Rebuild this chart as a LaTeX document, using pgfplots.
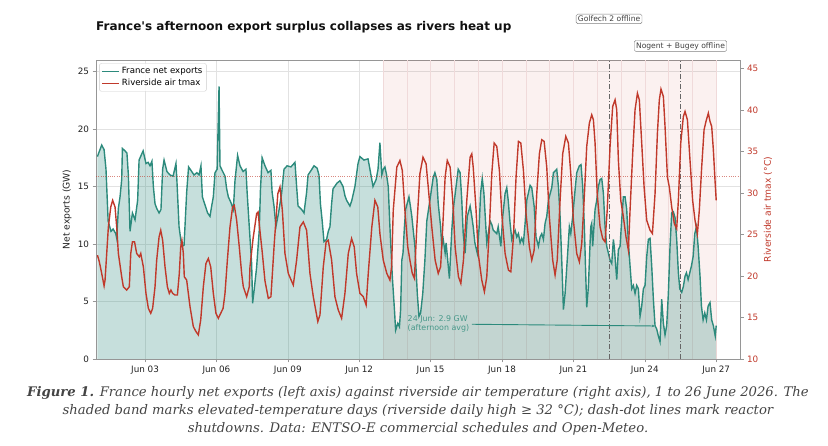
\documentclass[border=0pt]{standalone}
\usepackage{pgfplots}
\pgfplotsset{compat=1.18}
\usepackage{pgfplotstable}
\usepackage{fontspec}
\setmainfont{DejaVu Sans}[Ligatures=TeXOff]
\newfontfamily\capfont{DejaVu Serif}
\usetikzlibrary{arrows.meta}
\definecolor{tealc}{RGB}{44,138,124}
\definecolor{redc}{RGB}{192,57,43}
\definecolor{gridc}{RGB}{226,226,226}
\definecolor{spinec}{RGB}{150,150,150}
\definecolor{capc}{RGB}{68,68,68}
\definecolor{annc}{RGB}{72,152,138}
\definecolor{edgec}{RGB}{240,218,218}
\definecolor{txtc}{RGB}{34,34,34}

\pgfplotstableread{
x y
0.00 17.6
0.07 18.0
0.18 18.6
0.28 18.2
0.36 16.5
0.45 12.0
0.57 11.1
0.66 11.3
0.77 10.9
0.81 10.5
0.88 13.1
0.95 14.1
1.02 15.6
1.05 18.3
1.16 18.1
1.24 17.9
1.30 16.0
1.37 11.1
1.47 12.7
1.58 12.1
1.69 13.8
1.75 17.3
1.92 18.1
2.04 17.0
2.13 17.1
2.21 16.8
2.29 17.2
2.35 15.0
2.42 13.5
2.49 13.1
2.59 12.7
2.67 13.0
2.74 16.5
2.80 17.3
2.92 16.3
3.05 16.0
3.18 15.9
3.30 17.0
3.34 15.5
3.43 11.5
3.54 9.8
3.64 9.9
3.75 14.5
3.83 16.7
3.93 16.4
4.06 16.0
4.18 16.2
4.27 16.0
4.35 16.8
4.41 14.1
4.52 13.4
4.63 12.7
4.73 12.4
4.80 13.3
4.87 14.1
4.94 16.2
5.03 16.5
5.11 23.7
5.15 16.8
5.24 16.4
5.36 15.9
5.43 14.8
5.50 14.1
5.61 13.6
5.71 13.0
5.78 15.5
5.89 17.7
5.99 16.8
6.12 16.3
6.24 16.5
6.29 14.5
6.38 11.5
6.48 8.3
6.52 4.85
6.58 5.9
6.69 8.0
6.80 11.2
6.85 14.7
6.92 17.5
7.04 16.8
7.17 16.2
7.29 16.4
7.34 14.5
7.42 13.3
7.50 11.5
7.61 12.7
7.74 14.4
7.84 16.5
7.97 16.8
8.13 16.7
8.30 17.1
8.37 15.0
8.43 13.3
8.58 13.0
8.68 12.7
8.79 14.5
8.85 16.0
8.98 16.4
9.10 16.8
9.23 16.6
9.31 16.0
9.37 13.5
9.44 12.1
9.52 10.2
9.63 10.4
9.70 11.1
9.77 11.5
9.84 13.5
9.90 14.8
10.07 15.3
10.19 15.5
10.32 15.0
10.40 14.2
10.47 13.8
10.61 13.3
10.69 13.8
10.82 15.0
10.95 17.0
11.03 17.6
11.20 17.3
11.37 17.4
11.45 16.5
11.58 15.0
11.71 15.6
11.79 16.5
11.87 18.8
11.95 16.0
12.01 16.5
12.08 16.7
12.15 16.0
12.22 15.0
12.29 11.5
12.39 7.2
12.48 4.3
12.53 2.5
12.62 3.1
12.69 2.8
12.74 4.3
12.79 8.6
12.84 9.2
12.90 11.5
12.95 13.0
13.09 14.1
13.15 13.3
13.21 12.4
13.34 9.8
13.44 5.7
13.51 3.7
13.58 4.0
13.67 5.7
13.76 8.6
13.84 12.0
13.97 13.8
14.11 15.8
14.18 16.2
14.26 15.6
14.32 13.5
14.42 11.5
14.47 9.8
14.53 10.4
14.61 9.2
14.65 10.1
14.70 9.0
14.79 7.0
14.89 11.2
14.95 13.0
15.07 15.0
15.16 16.5
15.24 16.2
15.31 13.8
15.37 10.9
15.45 9.2
15.54 12.4
15.58 12.7
15.66 13.3
15.73 12.4
15.79 11.5
15.86 10.1
15.96 9.2
16.04 11.5
16.10 14.4
16.17 15.7
16.24 14.4
16.32 11.5
16.36 10.1
16.42 10.9
16.50 12.0
16.57 11.7
16.63 11.2
16.78 10.9
16.84 11.5
16.95 9.8
17.03 12.4
17.13 14.4
17.20 14.9
17.26 13.8
17.34 11.8
17.41 10.4
17.48 10.9
17.55 11.2
17.62 10.6
17.69 10.9
17.76 10.1
17.83 10.5
17.90 10.1
17.97 11.8
18.04 13.8
18.18 15.1
18.25 14.9
18.35 13.3
18.43 10.6
18.53 9.8
18.60 10.6
18.67 10.9
18.74 10.4
18.81 11.8
18.88 12.4
18.95 13.8
19.09 14.9
19.16 16.2
19.30 16.5
19.37 15.0
19.44 12.4
19.51 8.6
19.58 4.3
19.65 5.7
19.74 8.6
19.83 11.5
19.89 10.9
19.97 12.4
20.07 14.7
20.14 16.2
20.25 16.8
20.32 16.9
20.39 15.0
20.46 11.5
20.52 7.2
20.56 4.5
20.63 6.3
20.70 10.1
20.73 11.5
20.77 11.8
20.81 9.8
20.91 13.0
20.98 13.8
21.05 15.0
21.12 15.6
21.19 15.7
21.26 14.4
21.33 11.5
21.40 9.8
21.47 9.2
21.54 8.6
21.61 8.3
21.68 10.4
21.72 9.7
21.82 6.9
21.89 9.5
21.96 9.8
22.03 12.1
22.10 14.1
22.17 14.1
22.24 13.0
22.31 10.1
22.38 8.1
22.45 6.1
22.52 6.4
22.59 5.7
22.66 6.4
22.73 6.1
22.80 3.7
22.87 4.6
22.94 6.1
23.01 6.4
23.08 8.9
23.15 10.4
23.22 10.5
23.29 8.1
23.36 5.2
23.43 2.9
23.50 2.6
23.57 2.0
23.64 1.5
23.71 5.2
23.78 3.1
23.85 2.1
23.92 2.9
23.99 5.7
24.06 9.8
24.13 12.7
24.20 12.8
24.27 12.3
24.34 10.4
24.41 7.5
24.47 6.1
24.55 5.8
24.62 6.3
24.69 7.2
24.75 7.5
24.82 6.9
24.89 7.5
24.96 8.1
25.03 8.9
25.10 10.9
25.17 11.5
25.24 9.8
25.32 7.2
25.38 4.6
25.45 3.4
25.52 4.0
25.59 3.4
25.66 4.6
25.74 4.9
25.81 3.4
25.88 2.9
25.96 2.0
26.00 2.9
}\exports

\pgfplotstableread{
x y
0.00 22.5
0.08 21.7
0.18 20.3
0.28 18.8
0.32 19.5
0.39 22.7
0.46 25.9
0.56 28.3
0.64 29.1
0.74 28.3
0.81 25.9
0.88 22.7
1.02 19.9
1.09 18.7
1.23 18.3
1.34 18.7
1.40 22.7
1.47 24.1
1.56 24.1
1.65 22.7
1.76 22.3
1.82 22.7
1.93 21.1
2.04 17.9
2.14 16.1
2.24 15.5
2.32 16.1
2.42 18.7
2.49 21.9
2.59 24.7
2.66 25.5
2.74 24.3
2.84 21.1
2.94 18.7
3.02 17.9
3.09 18.3
3.16 17.9
3.26 17.7
3.36 17.7
3.44 20.3
3.50 23.5
3.55 24.3
3.61 22.7
3.65 19.9
3.75 19.5
3.82 17.9
3.89 16.3
4.03 13.9
4.14 13.3
4.24 12.9
4.34 14.7
4.45 18.7
4.56 21.5
4.66 22.1
4.76 21.1
4.87 17.9
4.98 15.5
5.08 14.9
5.18 15.5
5.28 16.1
5.36 17.9
5.46 21.9
5.57 25.9
5.68 28.3
5.75 28.5
5.85 26.7
5.96 23.5
6.06 20.3
6.13 18.7
6.27 17.5
6.38 18.7
6.41 21.1
6.54 24.5
6.69 27.5
6.75 27.7
6.83 25.4
6.92 23.0
7.04 19.4
7.18 17.3
7.29 17.5
7.43 23.9
7.58 29.9
7.67 30.7
7.77 27.9
7.88 22.7
8.02 20.3
8.23 18.9
8.37 21.9
8.51 25.9
8.65 26.5
8.79 25.5
8.93 20.3
9.07 17.5
9.26 14.5
9.35 15.3
9.49 21.1
9.61 24.1
9.70 24.3
9.84 21.9
9.98 17.5
10.12 15.9
10.26 14.9
10.40 17.9
10.54 22.7
10.68 24.5
10.79 23.5
10.89 20.3
11.03 17.9
11.17 17.5
11.29 16.5
11.38 20.3
11.53 25.9
11.66 29.1
11.78 28.3
11.87 25.1
12.01 21.9
12.16 20.3
12.29 19.5
12.36 21.1
12.43 27.9
12.58 33.1
12.71 33.9
12.81 32.7
12.92 27.9
13.04 23.5
13.13 21.9
13.23 20.3
13.32 19.7
13.42 25.9
13.55 32.3
13.68 34.3
13.81 33.5
13.90 30.7
14.05 25.9
14.19 21.9
14.32 20.3
14.42 21.1
14.51 25.9
14.61 31.9
14.70 33.9
14.82 33.1
14.93 29.1
15.03 23.5
15.17 19.9
15.27 19.1
15.38 21.9
15.52 29.1
15.66 34.3
15.73 34.7
15.79 33.1
15.91 27.9
16.00 22.7
16.15 19.5
16.26 18.1
16.36 19.9
16.47 25.9
16.57 32.3
16.67 36.0
16.78 35.6
16.89 32.7
16.99 27.5
17.13 22.7
17.27 20.7
17.37 20.5
17.48 24.7
17.59 31.9
17.69 36.2
17.79 36.0
17.90 32.7
18.01 27.5
18.15 23.5
18.25 21.9
18.35 23.1
18.46 29.9
18.57 34.7
18.67 36.4
18.77 36.2
18.88 33.1
18.99 27.1
19.13 21.9
19.23 20.1
19.32 21.9
19.44 29.1
19.55 34.7
19.68 36.8
19.79 36.0
19.89 32.3
20.00 26.7
20.14 22.7
20.25 21.7
20.35 23.9
20.45 29.1
20.56 35.6
20.67 38.4
20.77 39.4
20.84 38.8
20.91 36.0
21.00 29.9
21.12 25.9
21.23 24.5
21.33 24.1
21.42 27.9
21.54 35.6
21.65 40.4
21.75 41.2
21.82 40.0
21.89 33.9
21.99 29.1
22.10 27.1
22.21 24.7
22.31 23.1
22.38 27.9
22.49 34.7
22.59 40.0
22.69 42.0
22.77 41.2
22.87 36.0
22.97 30.7
23.08 26.7
23.22 25.5
23.32 25.1
23.43 29.9
23.53 37.2
23.61 41.2
23.68 42.5
23.78 41.6
23.85 38.0
23.95 31.9
24.03 30.7
24.13 28.3
24.24 26.3
24.34 25.7
24.41 29.1
24.51 36.0
24.62 39.2
24.69 39.8
24.79 38.8
24.90 33.9
25.01 29.1
25.11 26.7
25.21 25.1
25.29 27.9
25.39 33.1
25.49 37.6
25.57 38.6
25.67 39.6
25.74 38.6
25.81 38.0
25.88 35.2
25.95 31.5
26.00 29.1
}\tmax

\begin{document}
\begin{tikzpicture}[x=1pt,y=1pt]
\useasboundingbox (0,0) rectangle (828,446);
\node[anchor=base west, inner sep=0pt, font=\fontsize{12}{14}\selectfont\bfseries, text={rgb,255:red,17;green,17;blue,17}] at (96,415) {France's afternoon export surplus collapses as rivers heat up};

\begin{axis}[
  at={(96pt,87pt)}, anchor=south west, scale only axis,
  width=644pt, height=299pt,
  xmin=-0.06, xmax=27, ymin=0, ymax=26,
  xtick={2,5,8,11,14,17,20,23,26},
  xticklabels={Jun 03,Jun 06,Jun 09,Jun 12,Jun 15,Jun 18,Jun 21,Jun 24,Jun 27},
  ytick={0,5,10,15,20,25},
  xtick pos=bottom, ytick pos=left,
  tick align=outside, major tick length=3.5pt,
  tick style={spinec, line width=0.6pt},
  axis line style={spinec, line width=0.8pt},
  xmajorgrids, ymajorgrids,
  major grid style={gridc, line width=0.6pt},
  ticklabel style={font=\fontsize{8.8}{10}\selectfont, text=txtc},
  /pgf/number format/assume math mode=true,
  ylabel={Net exports (GW)},
  every axis y label/.style={at={(axis description cs:-0.045,0.5)}, rotate=90, anchor=center, font=\fontsize{9.2}{11}\selectfont, text=txtc},
  clip=false,
]
\fill[redc, fill opacity=0.07] (axis cs:12,0) rectangle (axis cs:26,26);
\pgfplotsinvokeforeach{12,...,26}{\draw[edgec, line width=0.5pt] (axis cs:#1,0) -- (axis cs:#1,26);}
\addplot[draw=none, fill=tealc, fill opacity=0.27] table[x=x,y=y] {\exports} \closedcycle;
\addplot[tealc, line width=1.4pt] table[x=x,y=y] {\exports};
\draw[black!60, line width=0.9pt, dash pattern=on 5pt off 2pt on 1pt off 2pt] (axis cs:21.5,0) -- (axis cs:21.5,26);
\draw[black!60, line width=0.9pt, dash pattern=on 5pt off 2pt on 1pt off 2pt] (axis cs:24.5,0) -- (axis cs:24.5,26);
\node[draw=gray, rounded corners=1.5pt, fill=white, inner sep=1.8pt, font=\fontsize{7.6}{8.5}\selectfont, text=black!75] at (axis cs:21.5,29.57) {Golfech 2 offline};
\node[draw=gray, rounded corners=1.5pt, fill=white, inner sep=1.8pt, font=\fontsize{7.6}{8.5}\selectfont, text=black!75] at (axis cs:24.5,27.22) {Nogent + Bugey offline};
\node[anchor=west, align=left, inner sep=0pt, text=annc, font=\fontsize{7.9}{9}\selectfont] at (axis cs:13.03,3.09) {24 Jun: 2.9 GW\\(afternoon avg)};
\draw[tealc, line width=0.9pt, -{Stealth[length=3pt,width=2.6pt]}] (axis cs:15.73,3.02) -- (axis cs:23.42,2.87);
\end{axis}

\begin{axis}[
  at={(96pt,87pt)}, anchor=south west, scale only axis,
  width=644pt, height=299pt,
  xmin=-0.06, xmax=27, ymin=10, ymax=46,
  axis x line=none, axis y line*=right,
  ytick={10,15,20,25,30,35,40,45},
  tick align=outside, major tick length=3.5pt,
  tick style={spinec, line width=0.6pt},
  axis line style={spinec, line width=0.8pt},
  yticklabel style={font=\fontsize{8.8}{10}\selectfont, text=redc},
  /pgf/number format/assume math mode=true,
  ylabel={Riverside air tmax (°C)},
  every axis y label/.style={at={(axis description cs:1.0435,0.5)}, rotate=90, anchor=center, font=\fontsize{9.2}{11}\selectfont, text=redc},
  legend style={at={(0.005,0.989)}, anchor=north west, font=\fontsize{8.6}{10}\selectfont, draw={rgb,255:red,204;green,204;blue,204}, rounded corners=2pt, fill=white, fill opacity=0.85, text opacity=1, inner sep=2pt, row sep=0pt},
  legend cell align=left,
]
\addlegendimage{tealc, line width=1.4pt}
\addlegendentry{France net exports}
\draw[redc, opacity=0.6, line width=0.6pt, dash pattern=on 1pt off 1.3pt] (axis cs:-0.06,32) -- (axis cs:27,32);
\addplot[redc, line width=1.4pt] table[x=x,y=y] {\tmax};
\addlegendentry{Riverside air tmax}
\end{axis}

\node[align=center, inner sep=0pt, font=\capfont\itshape\fontsize{13.2}{18}\selectfont, text=capc] at (418,35) {\textbf{Figure 1.} France hourly net exports (left axis) against riverside air temperature (right axis), 1 to 26 June 2026. The\\shaded band marks elevated-temperature days (riverside daily high ≥ 32 °C); dash-dot lines mark reactor\\shutdowns. Data: ENTSO-E commercial schedules and Open-Meteo.};
\end{tikzpicture}
\end{document}
